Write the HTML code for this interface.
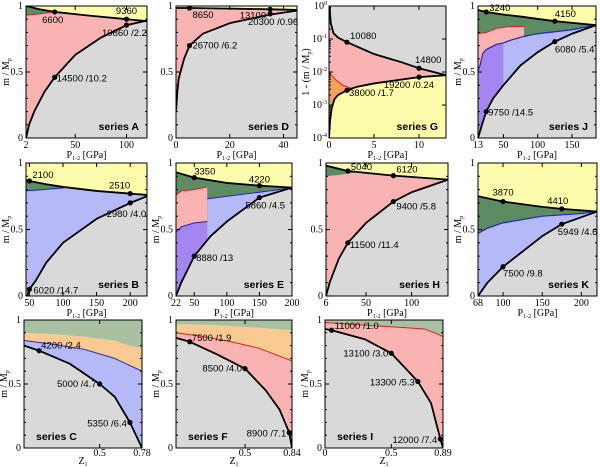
<!DOCTYPE html>
<html><head><meta charset="utf-8"><style>
body{margin:0;background:#fff}
svg{display:block}
text{font-family:"Liberation Serif",serif;font-size:10px;fill:#000}
.ann{font-family:"Liberation Sans",sans-serif;font-size:9.5px}
.ser{font-family:"Liberation Sans",sans-serif;font-size:10.5px;font-weight:bold}
</style></head><body>
<svg id="c" width="600" height="467" viewBox="0 0 600 467"></svg>
<script>
// ---- data arrays (x, y pairs) ----
const A_top=[[2,1],[15,0.975],[30,0.955],[60,0.93],[100,0.9],[120,0.885]];
const A_red=[[2,0.93],[15,0.94],[30,0.955],[60,0.93],[100,0.9],[120,0.885]];
const A_low=[[2,0],[5,0.1],[10,0.2],[20,0.35],[30,0.46],[50,0.63],[75,0.76],[100,0.855],[120,0.89]];
const A_marks=[[30,0.955,"6600"],[100,0.9,"9360"],[100,0.855,"10860 /2.2"],[30,0.46,"14500 /10.2"]];

const D_top=[[0,0.985],[5,0.985],[20,0.98],[35,0.975],[45,0.97]];
const D_low=[[0,0.2],[0.5,0.35],[1,0.45],[3,0.6],[5,0.7],[10,0.79],[20,0.87],[35,0.935],[45,0.965]];
const D_marks=[[5,0.985,"8650"],[35,0.975,"13100"],[35,0.94,"20300 /0.96"],[5,0.7,"26700 /6.2"]];

const G_top=[[0.05,1],[0.2,0.3],[0.5,0.15],[1,0.11],[2,0.08],[5,0.035],[8,0.02],[10,0.013],[13,0.008]];
const G_red=[[0,0.01],[0.3,0.008],[0.7,0.006],[1.5,0.004],[2.5,0.0032],[3,0.0035],[5,0.0045],[10,0.007],[13,0.008]];
const G_low=[[0,0.0001],[0.1,0.0003],[0.3,0.0008],[0.6,0.0015],[1,0.002],[2,0.0028],[3,0.0035],[5,0.0045],[10,0.007],[13,0.008]];
const G_marks=[[2,0.08,"10080"],[10,0.013,"14800"],[10,0.007,"19200 /0.24"],[2,0.0028,"38000 /1.7"]];

const J_top=[[13,0.97],[25,0.955],[50,0.935],[75,0.92],[125,0.885],[185,0.855]];
const J_red=[[13,0.79],[25,0.8],[40,0.83],[60,0.845],[80,0.845],[80,0.77],[100,0.79],[150,0.82],[185,0.855]];
const J_blue=[[13,0.51],[16,0.55],[20,0.64],[25,0.67],[40,0.71],[50,0.72],[60,0.74],[80,0.77],[100,0.79],[150,0.82],[185,0.855]];
const J_purple=[[13,0.51],[16,0.55],[20,0.64],[25,0.67],[40,0.71],[50,0.72],[50,0]];
const J_low=[[13,0],[20,0.12],[25,0.2],[35,0.3],[50,0.4],[75,0.55],[100,0.65],[125,0.73],[150,0.79],[185,0.855]];
const J_marks=[[25,0.955,"3240"],[125,0.885,"4150"],[125,0.73,"6080 /5.4"],[25,0.2,"9750 /14.5"]];

const B_top=[[45,0.87],[50,0.865],[75,0.84],[100,0.82],[150,0.79],[200,0.77],[225,0.76]];
const B_blue=[[45,0.79],[70,0.8],[105,0.815],[150,0.79],[200,0.77],[225,0.76]];
const B_low=[[47,0],[50,0.05],[60,0.12],[75,0.25],[100,0.4],[150,0.58],[200,0.7],[225,0.75]];
const B_marks=[[50,0.865,"2100"],[200,0.77,"2510"],[200,0.7,"2980 /4.0"],[50,0.05,"6020 /14.7"]];

const E_top=[[22,0.93],[50,0.89],[100,0.85],[150,0.83],[200,0.815]];
const E_red=[[22,0.76],[30,0.79],[50,0.8],[70,0.82],[70,0]];
const E_blue=[[70,0.73],[100,0.75],[150,0.78],[180,0.8],[200,0.815]];
const E_purple=[[22,0.48],[30,0.52],[50,0.55],[70,0.56],[70,0]];
const E_low=[[22,0],[30,0.1],[50,0.3],[75,0.45],[100,0.56],[150,0.74],[200,0.815]];
const E_marks=[[50,0.89,"3350"],[150,0.83,"4220"],[150,0.74,"5860 /4.5"],[50,0.3,"8880 /13"]];

const H_top=[[6,0.98],[30,0.94],[80,0.905],[140,0.875]];
const H_red=[[6,0.9],[20,0.91],[40,0.93],[80,0.905],[140,0.875]];
const H_low=[[6,0],[10,0.1],[20,0.28],[30,0.4],[50,0.55],[80,0.71],[100,0.78],[140,0.875]];
const H_marks=[[30,0.94,"5040"],[80,0.905,"6120"],[80,0.71,"9400 /5.8"],[30,0.4,"11500 /11.4"]];

const K_top=[[68,0.75],[100,0.71],[150,0.67],[175,0.655],[220,0.635]];
const K_blue=[[68,0.47],[80,0.51],[100,0.55],[150,0.6],[200,0.62],[220,0.635]];
const K_low=[[68,0],[80,0.1],[100,0.22],[150,0.45],[175,0.54],[220,0.635]];
const K_marks=[[100,0.71,"3870"],[175,0.655,"4410"],[175,0.54,"5949 /4.6"],[100,0.22,"7500 /9.8"]];

const C_orange=[[0,0.9],[0.2,0.89],[0.4,0.87],[0.6,0.84],[0.7,0.8],[0.78,0.78]];
const C_blue=[[0,0.84],[0.2,0.81],[0.4,0.77],[0.6,0.7],[0.78,0.6]];
const C_low=[[0,0.8],[0.1,0.76],[0.3,0.66],[0.5,0.5],[0.6,0.4],[0.7,0.2],[0.78,0]];
const C_marks=[[0.1,0.76,"4200 /2.4"],[0.5,0.5,"5000 /4.7"],[0.7,0.2,"5350 /6.4"]];

const F_orange=[[0,0.97],[0.3,0.96],[0.6,0.94],[0.84,0.92]];
const F_red=[[0,0.9],[0.2,0.87],[0.4,0.83],[0.6,0.78],[0.84,0.68]];
const F_low=[[0,0.86],[0.1,0.83],[0.3,0.73],[0.5,0.62],[0.65,0.45],[0.75,0.3],[0.82,0.12],[0.84,0]];
const F_marks=[[0.1,0.83,"7500 /1.9"],[0.5,0.62,"8500 /4.0"],[0.82,0.12,"8900 /7.1"]];

const I_red=[[0,0.98],[0.3,0.96],[0.6,0.94],[0.75,0.93],[0.85,0.89],[0.89,0.87]];
const I_low=[[0,0.93],[0.05,0.92],[0.3,0.85],[0.5,0.74],[0.7,0.52],[0.8,0.35],[0.87,0.07],[0.89,0]];
const I_marks=[[0.05,0.92,"11000 /1.0"],[0.5,0.74,"13100 /3.0"],[0.7,0.52,"13300 /5.3"],[0.87,0.07,"12000 /7.4"]];

const YL="#fcfcaa",GR="#d9d9d9",PK="#f9b3b3",DG="#5e8c62",LB="#b5b9f8",PU="#a386ef",OR="#f5a05c",LO="#fbca92",LG="#a9c0a2";
const panels=[
 {id:"A",box:[26,6,147,138],xd:[2,120],yd:[0,1],xt:[2,50,100],bg:YL,areas:[[A_top,DG],[A_red,PK],[A_low,GR]],lines:[[A_top,"#000",1.8],[A_red.slice(0,3),"#d22",1],[A_low,"#000",1.8]],marks:A_marks,lab:[[-2,11,"middle"],[0,-5,"middle"],[-2,11,"middle"],[2,4,"start"]],yt:true,xl:"P"},
 {id:"D",box:[176,6,297,138],xd:[0,45],yd:[0,1],xt:[0,20,40],bg:YL,areas:[[D_top,PK],[D_low,GR]],lines:[[D_top,"#000",1.8],[D_low,"#000",1.8]],marks:D_marks,lab:[[3,10,"start"],[-4,9,"end"],[3,11,"middle"],[3,3,"start"]],yt:false,xl:"P"},
 {id:"G",box:[329,6,446,138],xd:[0,13],yd:[-4,0],log:true,xt:[0,5,10],bg:GR,areas:[[G_top,PK],[G_red,OR],[G_low,YL]],lines:[[G_top,"#000",1.8],[G_red.slice(0,5),"#d22",1],[G_low,"#000",1.8]],marks:G_marks,lab:[[3,-3,"start"],[-4,-5,"start"],[15,11,"end"],[2,6,"start"]],yt:true,xl:"P"},
 {id:"J",box:[478,6,596,138],xd:[13,185],yd:[0,1],xt:[13,50,100,150],bg:YL,areas:[[J_top,DG],[J_red,PK],[J_blue,LB],[J_purple,PU],[J_low,GR]],lines:[[J_top,"#000",1.8],[J_red.slice(0,5),"#d22",1],[J_blue,"#22c",1.2],[J_low,"#000",1.8]],marks:J_marks,lab:[[3,-1,"start"],[0,-4,"start"],[0,11,"start"],[2,4,"start"]],yt:true,xl:"P"},
 {id:"B",box:[26,163,147,296],xd:[45,225],yd:[0,1],xt:[50,100,150,200],bg:YL,areas:[[B_top,DG],[B_blue,LB],[B_low,GR]],lines:[[B_top,"#000",1.8],[B_blue.slice(0,3),"#22c",1],[B_low,"#000",1.8]],marks:B_marks,lab:[[3,-3,"start"],[0,-5,"end"],[16,14,"end"],[4,4,"start"]],yt:true,xl:"P"},
 {id:"E",box:[176,163,292,296],xd:[22,200],yd:[0,1],xt:[22,50,100,150,200],bg:YL,areas:[[E_top,DG],[E_red,PK],[E_blue.concat([[200,0],[70,0]]),LB],[E_purple,PU],[E_low,GR]],lines:[[E_top,"#000",1.8],[E_red.slice(0,4),"#d22",1],[E_blue,"#22c",1],[E_purple.slice(0,4),"#22c",1],[E_low,"#000",1.8]],marks:E_marks,lab:[[0,-3,"start"],[0,-3,"middle"],[-14,11,"start"],[2,5,"start"]],yt:true,xl:"P"},
 {id:"H",box:[326,163,448,296],xd:[6,140],yd:[0,1],xt:[6,50,100],bg:YL,areas:[[H_top,DG],[H_red,PK],[H_low,GR]],lines:[[H_top,"#000",1.8],[H_low,"#000",1.8]],marks:H_marks,lab:[[3,-1,"start"],[3,-3,"start"],[3,8,"start"],[2,5,"start"]],yt:false,xl:"P"},
 {id:"K",box:[478,163,597,296],xd:[68,220],yd:[0,1],xt:[68,100,150,200],bg:YL,areas:[[K_top,DG],[K_blue,LB],[K_low,GR]],lines:[[K_top,"#000",1.8],[K_blue,"#22c",1.2],[K_low,"#000",1.8]],marks:K_marks,lab:[[0,-6,"middle"],[-4,-5,"middle"],[-4,11,"start"],[0,10,"start"]],yt:true,xl:"P"},
 {id:"C",box:[24,320,142,448],xd:[0,0.78],yd:[0,1],xt:[0.5,0.78],xtl:["0.5","0.78"],bg:LG,areas:[[C_orange,LO],[C_blue,LB],[C_low,GR]],lines:[[C_blue,"#22c",1],[C_low,"#000",1.8]],marks:C_marks,lab:[[2,-2,"start"],[-3,3,"end"],[-3,4,"end"]],yt:true,xl:"Z"},
 {id:"F",box:[176,320,292,448],xd:[0,0.84],yd:[0,1],xt:[0.5,0.84],xtl:["0.5","0.84"],bg:LG,areas:[[F_orange,LO],[F_red,PK],[F_low,GR]],lines:[[F_red,"#d22",1],[F_low,"#000",1.8]],marks:F_marks,lab:[[2,-1,"start"],[-3,3,"end"],[-3,4,"end"]],yt:true,xl:"Z"},
 {id:"I",box:[325,320,443,448],xd:[0,0.89],yd:[0,1],xt:[0,0.5,0.89],xtl:["0","0.5","0.89"],bg:LG,areas:[[I_red,PK],[I_low,GR]],lines:[[I_red,"#d22",1],[I_low,"#000",1.8]],marks:I_marks,lab:[[3,-1,"start"],[-3,3,"end"],[-3,4,"end"],[-3,4,"end"]],yt:true,xl:"Z"}
];
const NS="http://www.w3.org/2000/svg",svg=document.getElementById("c");
function mk(t,a,p){const e=document.createElementNS(NS,t);for(const k in a)e.setAttribute(k,a[k]);(p||svg).appendChild(e);return e;}
panels.forEach(P=>{
 const [x0,y0,x1,y1]=P.box;
 const row3=P.xl==="Z";
 const g=mk("g",{});
 
 
 const sx=v=>x0+(v-P.xd[0])/(P.xd[1]-P.xd[0])*(x1-x0);
 const sy=v=>{const u=P.log?Math.log10(v):v;return y1-(u-P.yd[0])/(P.yd[1]-P.yd[0])*(y1-y0);};
 const cp=mk("clipPath",{id:"cl"+P.id},g);mk("rect",{x:x0,y:y0,width:x1-x0,height:y1-y0},cp);
 const inner=mk("g",{"clip-path":"url(#cl"+P.id+")"},g);
 const bg=mk("rect",{x:x0,y:y0,width:x1-x0,height:y1-y0,fill:P.bg},inner);
 
 
 P.areas.forEach(a=>{
  const pts=a[0];let d="M"+pts.map(p=>sx(p[0])+","+sy(p[1])).join("L");
  d+="L"+sx(pts[pts.length-1][0])+","+(y1+2)+"L"+sx(pts[0][0])+","+(y1+2)+"Z";
  const e=mk("path",{d:d,fill:a[1]},inner);
  
  
 });
 P.lines.forEach(l=>{
  const e=mk("polyline",{points:l[0].map(p=>sx(p[0])+","+sy(p[1])).join(" "),fill:"none",stroke:l[1],"stroke-width":l[2],"stroke-linejoin":"round"},inner);
  
  
 });
 const st=mk("text",{x:row3?x0+12:x1-8,y:y1-8,"text-anchor":row3?"start":"end",class:"ser"},g);st.textContent="series "+P.id;
 
 
 P.marks.forEach((m,i)=>{
  const c=mk("circle",{cx:sx(m[0]),cy:sy(m[1]),r:2.6,fill:"#000"},inner);
  
  
  const o=P.lab[i];
  const t=mk("text",{x:sx(m[0])+o[0],y:sy(m[1])+o[1],"text-anchor":o[2],class:"ann"},g);t.textContent=m[2];
  
  
 });
 mk("rect",{x:x0,y:y0,width:x1-x0,height:y1-y0,fill:"none",stroke:"#000","stroke-width":1},g);
 const tly=row3?y1+8:y1+10, tty=row3?y1+16:y1+20;
 P.xt.forEach((v,i)=>{
  const X=sx(v);mk("line",{x1:X,x2:X,y1:y1,y2:y1-4,stroke:"#000"},g);mk("line",{x1:X,x2:X,y1:y0,y2:y0+4,stroke:"#000"},g);
  const t=mk("text",{x:X,y:tly,"text-anchor":"middle"},g);t.textContent=P.xtl?P.xtl[i]:v;
  
  
 });
 const xt=mk("text",{x:(x0+x1)/2,y:tty,"text-anchor":"middle"},g);
 
 
 if(P.xl==="P"){xt.innerHTML='P<tspan font-size="6" dy="2">1-2</tspan><tspan dy="-2"> [GPa]</tspan>';}
 else xt.innerHTML='Z<tspan font-size="6" dy="2">1</tspan>';
 if(P.log){
  for(let k=-4;k<=0;k++){const Yp=sy(Math.pow(10,k));mk("line",{x1:x0,x2:x0+4,y1:Yp,y2:Yp,stroke:"#000"},g);mk("line",{x1:x1,x2:x1-4,y1:Yp,y2:Yp,stroke:"#000"},g);
   for(let j=2;j<10&&k<0;j++){const yy=sy(j*Math.pow(10,k));mk("line",{x1:x0,x2:x0+2,y1:yy,y2:yy,stroke:"#000"},g);}
   const t=mk("text",{x:x0-2,y:Yp+3,"text-anchor":"end"},g);t.innerHTML='10<tspan font-size="6" dy="-4">'+k+'</tspan>';
   
   }
 } else {
  for(let k=0;k<=10;k++){const Yp=sy(k/10),L=k%5?2:4;mk("line",{x1:x0,x2:x0+L,y1:Yp,y2:Yp,stroke:"#000"},g);mk("line",{x1:x1,x2:x1-L,y1:Yp,y2:Yp,stroke:"#000"},g);}
  [[0,"0"],[0.5,"0.5"],[1,"1"]].forEach(v=>{const t=mk("text",{x:x0-3,y:sy(v[0])+3,"text-anchor":"end"},g);t.textContent=v[1];
   
   });
 }
 if(P.yt){const cx=x0-(P.log?20:17),cy=(y0+y1)/2;
  const t=mk("text",{x:cx,y:cy,"text-anchor":"middle",transform:"rotate(-90 "+cx+" "+cy+")"},g);
  t.innerHTML=P.log?'1 - (m / M<tspan font-size="6" dy="2">p</tspan><tspan dy="-2">)</tspan>':'m / M<tspan font-size="6" dy="2">p</tspan>';
  
  }
});
</script>
</body></html>
